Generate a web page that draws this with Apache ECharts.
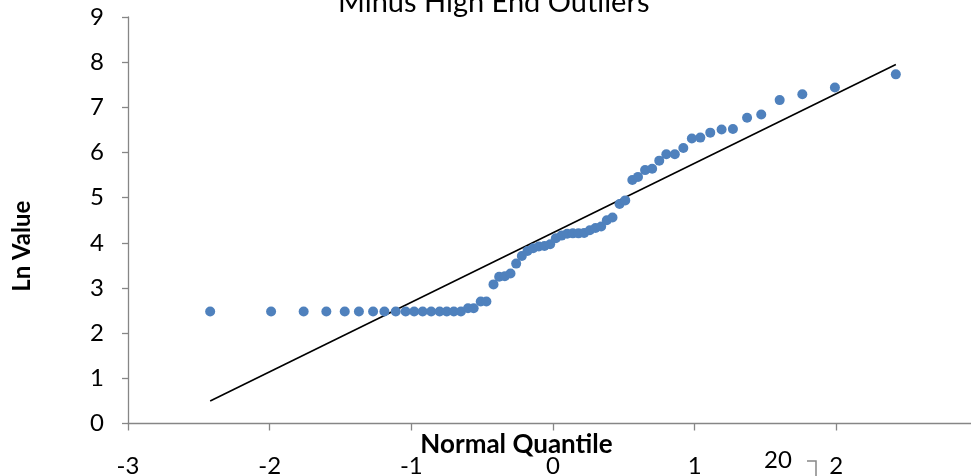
<!DOCTYPE html>
<html>
<head>
<meta charset="utf-8">
<script src="https://cdn.jsdelivr.net/npm/echarts@6/dist/echarts.min.js"></script>
<style>html,body{margin:0;padding:0;background:#fff}#c{width:971px;height:476px}</style>
</head>
<body>
<div id="c"></div>
<script>
// Normal quantiles (x) and Ln values (y)
var quantiles = [-2.42,-1.99,-1.76,-1.60,-1.47,-1.37,-1.27,-1.19,-1.11,-1.04,-0.98,-0.92,-0.86,-0.80,-0.75,-0.70,
  -0.65,-0.60,-0.56,-0.51,-0.47,-0.42,-0.38,-0.34,-0.30,-0.26,-0.22,-0.18,-0.14,-0.10,-0.06,-0.02,
  0.02,0.06,0.10,0.14,0.18,0.22,0.26,0.30,0.34,0.38,0.42,0.47,0.51,0.56,0.60,0.65,
  0.70,0.75,0.80,0.86,0.92,0.98,1.04,1.11,1.19,1.27,1.37,1.47,1.60,1.76,1.99,2.42];
var lnValues = [2.48,2.48,2.48,2.48,2.48,2.48,2.48,2.48,2.48,2.48,2.48,2.48,2.48,2.48,2.48,2.48,
  2.48,2.55,2.55,2.70,2.70,3.08,3.25,3.26,3.32,3.54,3.71,3.82,3.88,3.92,3.93,3.97,
  4.10,4.16,4.20,4.21,4.21,4.22,4.28,4.33,4.36,4.50,4.56,4.86,4.94,5.39,5.46,5.61,
  5.64,5.82,5.96,5.96,6.10,6.31,6.33,6.44,6.51,6.52,6.77,6.84,7.16,7.29,7.44,7.73];
var lineX = [-2.42, 2.42];
var lineY = [0.50, 7.95];
var xTicks = {min: -3, max: 3, interval: 1};
var yTicks = {min: 0, max: 9, interval: 1};
var titleText = 'Minus High End Outliers';
var xName = 'Normal Quantile';
var yName = 'Ln Value';

var pts = quantiles.map(function (q, i) { return [q, lnValues[i]]; });
var linePts = lineX.map(function (x, i) { return [x, lineY[i]]; });

var FONT = 'Lato';
var axisCol = '#868686';
var chart = echarts.init(document.getElementById('c'));
chart.setOption({
  animation: false,
  backgroundColor: '#fff',
  title: {
    text: titleText, left: 333, top: -17,
    textStyle: {fontFamily: FONT, fontSize: 29, fontWeight: 'normal', color: '#000'}
  },
  grid: {left: 128, top: 17, bottom: 52.5, right: -7, containLabel: false, outerBoundsMode: 'none'},
  xAxis: {
    type: 'value', min: xTicks.min, max: xTicks.max, interval: xTicks.interval,
    name: xName, nameLocation: 'middle', nameGap: 8, nameMoveOverlap: false,
    nameTextStyle: {fontFamily: FONT, fontSize: 26, fontWeight: 'bold', color: '#000', padding: [0, 73, 0, 0]},
    axisLine: {show: true, onZero: false, lineStyle: {color: axisCol, width: 1.3}},
    axisTick: {show: true, inside: false, length: 7, lineStyle: {color: axisCol, width: 1.3}},
    axisLabel: {fontFamily: FONT, fontSize: 24, color: '#000', margin: 31},
    splitLine: {show: false}
  },
  yAxis: {
    type: 'value', min: yTicks.min, max: yTicks.max, interval: yTicks.interval,
    name: yName, nameLocation: 'middle', nameGap: 94, nameRotate: 90, nameMoveOverlap: false,
    nameTextStyle: {fontFamily: FONT, fontSize: 24, fontWeight: 'bold', color: '#000', padding: [0, 52, 0, 0]},
    axisLine: {show: true, onZero: false, lineStyle: {color: axisCol, width: 1.3}},
    axisTick: {show: true, inside: false, length: 6, lineStyle: {color: axisCol, width: 1.3}},
    axisLabel: {fontFamily: FONT, fontSize: 24, color: '#000', margin: 24},
    splitLine: {show: false}
  },
  series: [
    {
      type: 'line', data: linePts, symbol: 'none', silent: true,
      lineStyle: {color: '#000', width: 1.6}, z: 3
    },
    {
      type: 'scatter', data: pts, symbol: 'circle', symbolSize: 10,
      itemStyle: {color: '#4F81BD', opacity: 1}, z: 4
    }
  ],
  graphic: [
    {type: 'text', left: 764, top: 448, style: {text: '20', font: '24px Lato', fill: '#000'}},
    {type: 'polyline', shape: {points: [[807, 461], [816, 461], [816, 476]]}, style: {stroke: axisCol, lineWidth: 1.5, fill: null}}
  ]
});
</script>
</body>
</html>
